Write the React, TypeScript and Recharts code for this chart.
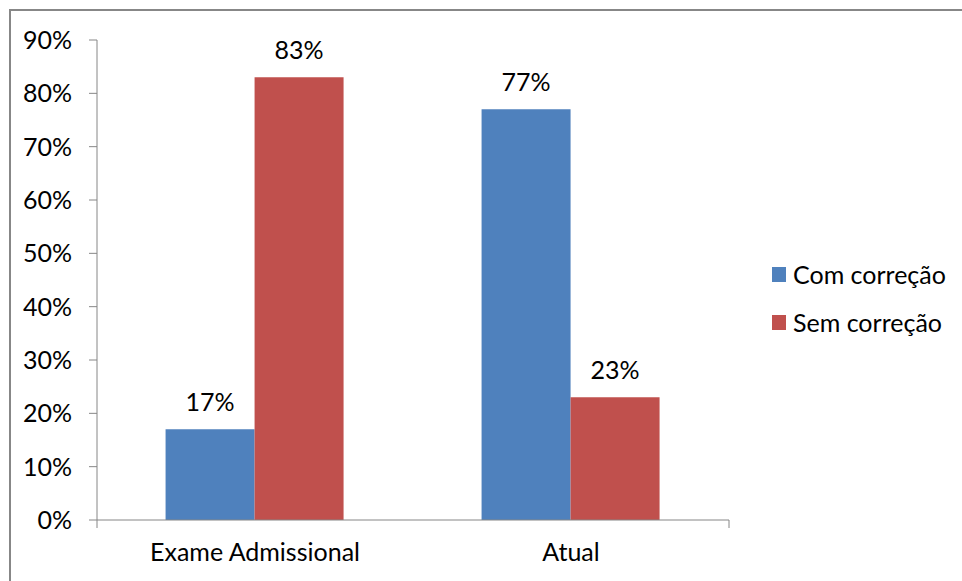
import { Bar, BarChart, LabelList, Legend, XAxis, YAxis } from "recharts"

const categories = ["Exame Admissional", "Atual"]
const comCorrecao = [17, 77]
const semCorrecao = [83, 23]
const yTicks = [0, 10, 20, 30, 40, 50, 60, 70, 80, 90]

const seriesNames = { com: "Com correção", sem: "Sem correção" }
const colors = { com: "#4F81BD", sem: "#C0504D" }

const data = categories.map((name, i) => ({
    name,
    com: comCorrecao[i],
    sem: semCorrecao[i],
}))

const font = "Lato, 'Open Sans', sans-serif"
const fontSize = 25
const axisColor = "#868686"

function LegendBox({ payload }: any) {
    return (
        <div style={{ fontFamily: font, fontSize, color: "#000" }}>
            {(payload || []).map((entry: any) => (
                <div key={entry.value} style={{ display: "flex", alignItems: "center", height: 48 }}>
                    <span style={{ width: 14, height: 15, background: entry.color, marginRight: 7 }} />
                    <span>{entry.value}</span>
                </div>
            ))}
        </div>
    )
}

export default function App() {
    return (
        <div style={{ position: "fixed", left: 0, top: 0, width: 962, height: 581, background: "#fff" }}>
            <div
                style={{
                    position: "absolute",
                    left: 9,
                    top: 9,
                    width: 953,
                    height: 572,
                    borderTop: "2px solid #878787",
                    borderLeft: "2px solid #878787",
                    boxSizing: "border-box",
                }}
            />
            <div style={{ position: "absolute", left: 0, top: 0 }}>
                <BarChart
                    width={962}
                    height={581}
                    data={data}
                    margin={{ top: 40, right: 233, bottom: 20, left: 0 }}
                    barCategoryGap="21.7%"
                    barGap={0}
                    style={{ fontFamily: font }}
                >
                    {/* boundary ticks between the categories */}
                    <XAxis
                        xAxisId="edge"
                        type="number"
                        domain={[0, 2]}
                        ticks={[0, 1, 2]}
                        height={1}
                        stroke={axisColor}
                        tickSize={8}
                        tickFormatter={() => ""}
                    />
                    <XAxis
                        xAxisId="name"
                        dataKey="name"
                        height={40}
                        axisLine={false}
                        tickLine={false}
                        tickSize={0}
                        tickMargin={22}
                        tick={{ fill: "#000", fontSize }}
                    />
                    <YAxis
                        width={97}
                        domain={[0, 90]}
                        ticks={yTicks}
                        stroke={axisColor}
                        tickSize={8}
                        tickMargin={17}
                        tick={{ fill: "#000", fontSize }}
                        tickFormatter={(v) => `${v}%`}
                    />
                    <Legend
                        layout="vertical"
                        align="center"
                        verticalAlign="middle"
                        content={<LegendBox />}
                        wrapperStyle={{ left: 772, top: 250, width: 190 }}
                    />
                    <Bar xAxisId="name" dataKey="com" name={seriesNames.com} fill={colors.com} isAnimationActive={false}>
                        <LabelList dataKey="com" position="top" offset={18} fill="#000" fontSize={fontSize} formatter={(v: any) => `${v}%`} />
                    </Bar>
                    <Bar xAxisId="name" dataKey="sem" name={seriesNames.sem} fill={colors.sem} isAnimationActive={false}>
                        <LabelList dataKey="sem" position="top" offset={18} fill="#000" fontSize={fontSize} formatter={(v: any) => `${v}%`} />
                    </Bar>
                </BarChart>
            </div>
        </div>
    )
}
